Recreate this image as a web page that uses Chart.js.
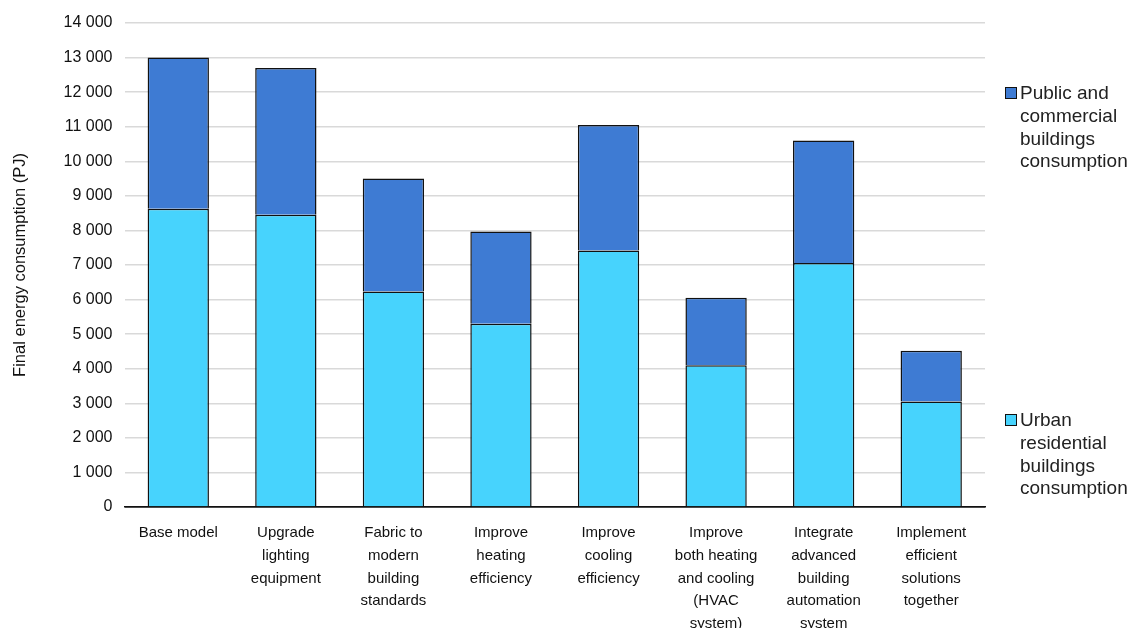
<!DOCTYPE html>
<html lang="en">
  <head>
    <meta charset="UTF-8" />
    <title>Final energy consumption by measure</title>
    <style>
      body {
        margin: 0;
        background: #fff;
        font-family: Arial, "Liberation Sans", sans-serif;
        overflow: hidden;
      }
      .wrap {
        position: relative;
        width: 1131px;
        height: 628px;
      }
      .legend-item {
        position: absolute;
        left: 1005px;
        font-size: 19px;
        line-height: 22.8px;
        color: #222;
        display: flex;
        align-items: flex-start;
      }
      .legend-item .box {
        width: 10px;
        height: 10px;
        border: 1px solid #111;
        margin-top: 5px;
        margin-right: 3px;
        flex: none;
      }
    </style>
  </head>
  <body>
    <div class="wrap">
      <canvas id="energyChart" width="1131" height="628"></canvas>
      <div class="legend-item" style="top: 82px">
        <span class="box" style="background: #3e7bd3"></span>
        <span>Public and<br />commercial<br />buildings<br />consumption</span>
      </div>
      <div class="legend-item" style="top: 409px">
        <span class="box" style="background: #47d3fd"></span>
        <span>Urban<br />residential<br />buildings<br />consumption</span>
      </div>
    </div>

    <script src="https://cdn.jsdelivr.net/npm/chart.js"></script>
    <script>
      const measures = [
        ["Base model"],
        ["Upgrade", "lighting", "equipment"],
        ["Fabric to", "modern", "building", "standards"],
        ["Improve", "heating", "efficiency"],
        ["Improve", "cooling", "efficiency"],
        ["Improve", "both heating", "and cooling", "(HVAC", "system)"],
        ["Integrate", "advanced", "building", "automation", "system"],
        ["Implement", "efficient", "solutions", "together"],
      ];
      // PJ, residential at the bottom of each stack
      const urbanResidential = [8630, 8450, 6230, 5300, 7420, 4100, 7060, 3050];
      const publicCommercial = [4370, 4250, 3270, 2670, 3630, 1950, 3540, 1470];

      const fmt = (v) => String(v).replace(/\B(?=(\d{3})+(?!\d))/g, " ");

      new Chart(document.getElementById("energyChart"), {
        type: "bar",
        data: {
          labels: measures,
          datasets: [
            {
              label: "Urban residential buildings consumption",
              data: urbanResidential,
              backgroundColor: "#47d3fd",
              borderColor: "#111",
              borderWidth: 1.5,
            },
            {
              label: "Public and commercial buildings consumption",
              data: publicCommercial,
              backgroundColor: "#3e7bd3",
              borderColor: "#111",
              borderWidth: 1.5,
            },
          ],
        },
        options: {
          responsive: false,
          animation: false,
          layout: { padding: { left: 11, right: 146, top: 23, bottom: 0 } },
          datasets: {
            bar: { barPercentage: 0.57, categoryPercentage: 1 },
          },
          plugins: {
            legend: { display: false },
            tooltip: { enabled: false },
          },
          scales: {
            x: {
              stacked: true,
              grid: { display: false },
              border: { color: "#111", width: 1.5 },
              ticks: {
                color: "#111",
                font: { family: "Arial", size: 15, lineHeight: 1.53 },
                maxRotation: 0,
                autoSkip: false,
                padding: 6,
              },
              afterFit: (scale) => {
                scale.height = 121;
              },
            },
            y: {
              stacked: true,
              min: 0,
              max: 14000,
              border: { display: false },
              grid: {
                color: (c) => (c.tick && c.tick.value === 0 ? "#111" : "#d9d9d9"),
                lineWidth: 1.5,
                drawTicks: false,
              },
              ticks: {
                stepSize: 1000,
                color: "#111",
                font: { family: "Arial", size: 16 },
                padding: 12,
                callback: (v) => fmt(v),
              },
              title: {
                display: true,
                text: "Final energy consumption (PJ)",
                color: "#111",
                font: { family: "Arial", size: 16.5 },
                padding: { top: 0, bottom: 4 },
              },
              afterFit: (scale) => {
                scale.width = 113.5;
              },
            },
          },
        },
      });
    </script>
  </body>
</html>
